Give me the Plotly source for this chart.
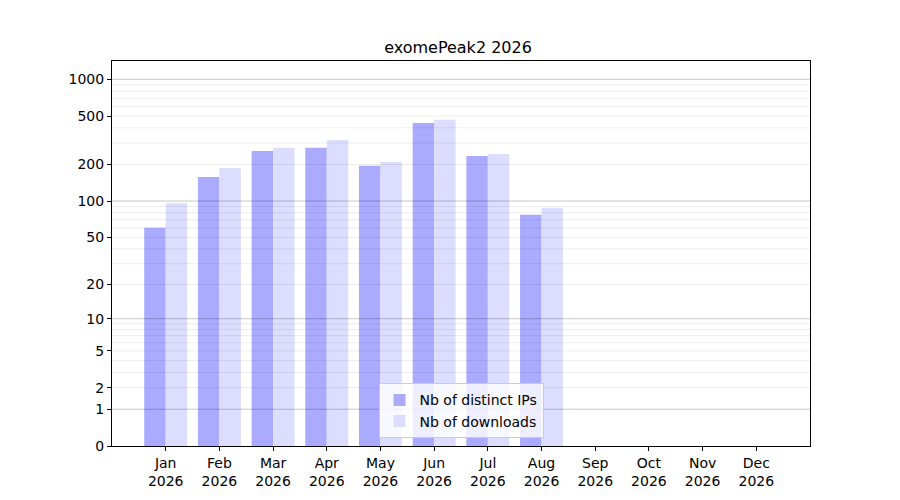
import numpy as np
import plotly.graph_objects as go

months = ["Jan", "Feb", "Mar", "Apr", "May", "Jun", "Jul", "Aug", "Sep", "Oct", "Nov", "Dec"]
year = "2026"
distinct_ips = [60, 158, 258, 274, 195, 439, 235, 77]
downloads = [96, 187, 274, 318, 210, 465, 244, 88]
ytick_labels = [0, 1, 2, 5, 10, 20, 50, 100, 200, 500, 1000]
major_grid = [1, 10, 100, 1000]
minor_grid = [m * d for d in (1, 10, 100) for m in range(2, 10)]

def tr(v):
    return np.log10(1 + np.asarray(v, dtype=float))

xpos = np.arange(len(months))
n = len(distinct_ips)

fig = go.Figure()
fig.add_trace(go.Bar(x=xpos[:n], y=tr(distinct_ips), name="Nb of distinct IPs",
                     marker=dict(color="#aaaaff", line=dict(width=0)),
                     width=0.4, offset=-0.4))
fig.add_trace(go.Bar(x=xpos[:n], y=tr(downloads), name="Nb of downloads",
                     marker=dict(color="#ddddff", line=dict(width=0)),
                     width=0.4, offset=0.0))

shapes = []
for v in minor_grid:
    shapes.append(dict(type="line", xref="paper", yref="y", x0=0, x1=1, y0=tr(v), y1=tr(v),
                       line=dict(color="rgba(0,0,0,0.07)", width=1), layer="above"))
for v in major_grid:
    shapes.append(dict(type="line", xref="paper", yref="y", x0=0, x1=1, y0=tr(v), y1=tr(v),
                       line=dict(color="rgba(0,0,0,0.22)", width=1), layer="above"))

fig.update_layout(
    width=900, height=500,
    paper_bgcolor="white", plot_bgcolor="white",
    margin=dict(l=104, r=98, t=53, b=62),
    font=dict(family="DejaVu Sans", size=14, color="black"),
    title=dict(text="exomePeak2 " + year, x=0.5, xanchor="center", y=0.922, yanchor="middle",
               font=dict(size=16, family="DejaVu Sans")),
    barmode="overlay",
    showlegend=True,
    legend=dict(x=0.5, y=0.02, xanchor="center", yanchor="bottom",
                bgcolor="rgba(255,255,255,0.8)", bordercolor="#cccccc", borderwidth=1,
                font=dict(size=14), itemsizing="constant"),
    shapes=shapes,
)
fig.update_xaxes(
    range=[-1.0, 12.0],
    tickmode="array", tickvals=list(xpos), ticktext=[m + "<br>" + year for m in months],
    showgrid=False, zeroline=False,
    showline=True, linecolor="black", linewidth=1, mirror=True,
    ticks="outside", ticklen=4, tickcolor="black",
)
fig.update_yaxes(
    range=[0, 3.15],
    tickmode="array", tickvals=list(tr(ytick_labels)), ticktext=[str(t) for t in ytick_labels],
    showgrid=False, zeroline=False,
    showline=True, linecolor="black", linewidth=1, mirror=True,
    ticks="outside", ticklen=4, tickcolor="black",
)

fig.write_html("out.html")
